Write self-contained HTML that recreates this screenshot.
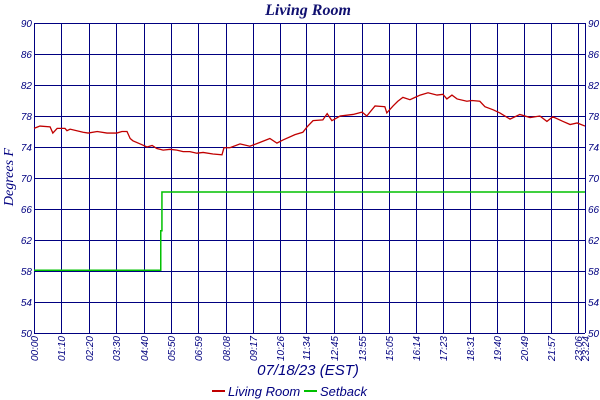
<!DOCTYPE html>
<html><head><meta charset="utf-8"><style>
body{margin:0;background:#fff}
svg{display:block}
text{font-family:"Liberation Sans",sans-serif;fill:#000080;font-style:italic}
</style></head><body>
<svg id="chart" width="600" height="400">
<text x="308" y="15" text-anchor="middle" font-size="16" font-weight="bold" style="font-family:'Liberation Serif',serif;fill:#101070">Living Room</text>
<text transform="translate(13,177) rotate(-90)" text-anchor="middle" font-size="14" style="font-family:'Liberation Serif',serif">Degrees F</text>
<text x="308" y="375" text-anchor="middle" font-size="15">07/18/23 (EST)</text>
<g id="grid" shape-rendering="crispEdges"></g>
<g id="series"></g>
<g>
<g><line x1="212" y1="391" x2="225" y2="391" stroke="#c00000" stroke-width="2"/><text x="228" y="396" font-size="13">Living Room</text></g>
<g><line x1="304" y1="391" x2="317" y2="391" stroke="#00c000" stroke-width="2"/><text x="320" y="396" font-size="13">Setback</text></g>
</g>
</svg>
<script>
const xTickMinutes=[0,70,140,210,280,350,419,488,557,626,694,765,835,905,974,1043,1111,1180,1249,1317,1386,1404];
const xTickLabels=["00:00","01:10","02:20","03:30","04:40","05:50","06:59","08:08","09:17","10:26","11:34","12:45","13:55","15:05","16:14","17:23","18:31","19:40","20:49","21:57","23:06","23:24"];
const yTicks=[50,54,58,62,66,70,74,78,82,86,90];
const roomTimes=[0,15,41,48,59,79,84,92,125,138,161,186,211,224,237,245,252,275,288,301,313,329,347,364,380,397,415,431,456,479,484,499,525,550,576,601,619,634,665,685,696,711,736,747,759,780,813,836,848,869,894,899,915,927,940,958,971,984,1004,1027,1042,1052,1065,1078,1103,1116,1136,1149,1170,1187,1213,1238,1264,1289,1307,1322,1348,1366,1384,1404];
const roomTemps=[76.4,76.7,76.6,75.8,76.4,76.4,76.1,76.3,75.9,75.8,76.0,75.8,75.8,76.0,76.0,75.1,74.8,74.3,74.0,74.2,73.8,73.6,73.7,73.6,73.4,73.4,73.2,73.3,73.1,73.0,73.9,73.9,74.4,74.1,74.6,75.1,74.5,74.9,75.6,75.9,76.6,77.4,77.5,78.3,77.4,78.0,78.2,78.5,78.0,79.3,79.2,78.4,79.3,79.9,80.4,80.1,80.4,80.7,81.0,80.7,80.8,80.2,80.7,80.2,79.9,80.0,79.9,79.2,78.8,78.4,77.6,78.2,77.8,78.0,77.3,77.9,77.3,76.9,77.1,76.7];
const setbackTimes=[0,323,323,326,326,1404];
const setbackTemps=[58.1,58.1,63.2,63.2,68.2,68.2];
const X0=34,X1=585,Y0=333,Y1=23,TMAX=1404,VMIN=50,VMAX=90;
const xs=t=>X0+t/TMAX*(X1-X0);
const ys=v=>Y0-(v-VMIN)/(VMAX-VMIN)*(Y0-Y1);
const NS="http://www.w3.org/2000/svg";
const grid=document.getElementById('grid'),series=document.getElementById('series');
function mk(tag,attrs,parent){const e=document.createElementNS(NS,tag);for(const k in attrs)e.setAttribute(k,attrs[k]);parent.appendChild(e);return e;}
yTicks.forEach(v=>{
  const y=Math.round(ys(v))+0.5;
  const l=mk('line',{x1:X0,x2:X1,y1:y,y2:y,stroke:'#000080','stroke-width':1},grid);
  
  
  const a=mk('text',{x:X0-2,y:ys(v)+4,'text-anchor':'end','font-size':10},grid);a.textContent=v;
  
  
  const b=mk('text',{x:X1+3,y:ys(v)+4,'font-size':10},grid);b.textContent=v;
  
  
});
xTickMinutes.forEach((t,i)=>{
  const x=Math.round(xs(t))+0.5;
  const l=mk('line',{x1:x,x2:x,y1:Y1,y2:Y0,stroke:'#000080','stroke-width':1},grid);
  
  
  const tx=mk('text',{transform:`translate(${x+3.5},${Y0+3}) rotate(-90)`,'text-anchor':'end','font-size':10},grid);
  tx.textContent=xTickLabels[i];
  
  
});
const sb=mk('polyline',{points:setbackTimes.map((t,i)=>xs(t)+','+ys(setbackTemps[i])).join(' '),fill:'none',stroke:'#00c000','stroke-width':1.5},series);


const rm=mk('polyline',{points:roomTimes.map((t,i)=>xs(t)+','+ys(roomTemps[i])).join(' '),fill:'none',stroke:'#c00000','stroke-width':1.3},series);


</script>
</body></html>
